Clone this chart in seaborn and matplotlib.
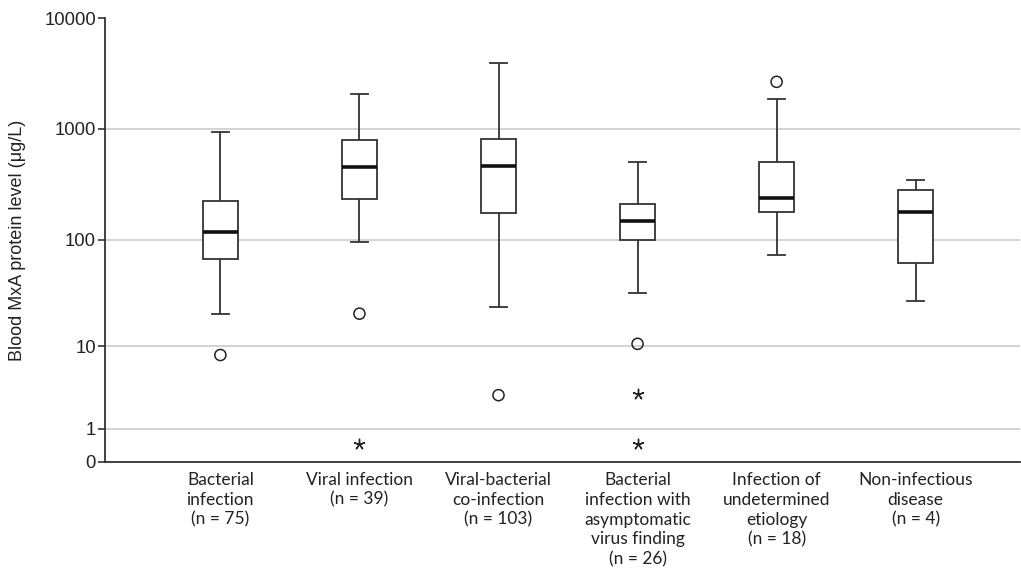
import numpy as np
import pandas as pd
import matplotlib
matplotlib.use("Agg")
import matplotlib.pyplot as plt
import seaborn as sns
from matplotlib.ticker import FixedLocator, NullLocator

# ---------------- data ----------------
categories = [
    "Bacterial\ninfection\n(n = 75)",
    "Viral infection\n(n = 39)",
    "Viral-bacterial\nco-infection\n(n = 103)",
    "Bacterial\ninfection with\nasymptomatic\nvirus finding\n(n = 26)",
    "Infection of\nundetermined\netiology\n(n = 18)",
    "Non-infectious\ndisease\n(n = 4)",
]
whisker_low = [20.7, 95, 24, 32, 73, 27]
q1 = [66, 231, 174, 99, 178, 61]
median = [116, 454, 460, 147, 238, 177]
q3 = [224, 789, 806, 208, 507, 284]
whisker_high = [930, 2080, 3960, 500, 1845, 344]

outlier_groups = [0, 1, 2, 3, 4]
outlier_values = [8.2, 20.7, 3.0, 10.6, 2660]

extreme_groups = [1, 3, 3]
extreme_values = [0.45, 3.1, 0.45]

ytick_values = [0, 1, 10, 100, 1000, 10000]
ytick_labels = ["0", "1", "10", "100", "1000", "10000"]

# ---------------- build tables ----------------
rows = []
for i, cat in enumerate(categories):
    vals = [whisker_low[i]] + [q1[i]] * 5 + [median[i]] * 5 + [q3[i]] * 5 + [whisker_high[i]]
    for v in vals:
        rows.append((cat, v))
box_df = pd.DataFrame(rows, columns=["group", "value"])
circ_df = pd.DataFrame({"group": [categories[g] for g in outlier_groups], "value": outlier_values})
star_df = pd.DataFrame({"group": [categories[g] for g in extreme_groups], "value": extreme_values})


def fwd(v):
    v = np.asarray(v, dtype=float)
    with np.errstate(invalid="ignore", divide="ignore"):
        return np.log10(np.maximum(v, -0.999999) + 1.0)


def inv(t):
    t = np.asarray(t, dtype=float)
    return 10.0 ** t - 1.0


plt.rcParams["font.family"] = ["Liberation Sans", "DejaVu Sans"]

fig = plt.figure(figsize=(10.21, 5.70), dpi=100)
ax = fig.add_axes([0.1028, 0.1895, 0.8962, 0.7789])
ax.set_yscale("function", functions=(fwd, inv))

edge = "#333333"
sns.boxplot(data=box_df, x="group", y="value", order=categories, ax=ax,
            width=0.25, whis=np.inf, showfliers=False, color="white",
            linecolor=edge, linewidth=1.3, saturation=1,
            medianprops=dict(color="#111111", linewidth=2.6))

n0 = len(ax.collections)
sns.stripplot(data=circ_df, x="group", y="value", order=categories, ax=ax,
              jitter=False, color="black", marker="o", size=8,
              linewidth=1.1, edgecolor="#222222")
for c in ax.collections[n0:]:
    c.set_facecolor("none")
    c.set_edgecolor("#222222")

n1 = len(ax.collections)
sns.stripplot(data=star_df, x="group", y="value", order=categories, ax=ax,
              jitter=False, color="black", marker=(5, 2, 0), size=7.5,
              linewidth=1.0, edgecolor="#222222")
for c in ax.collections[n1:]:
    c.set_edgecolor("#222222")

ax.set_xlim(-0.83, 5.75)
ax.set_ylim(0, 10000)
ax.yaxis.set_major_locator(FixedLocator(ytick_values))
ax.yaxis.set_minor_locator(NullLocator())
ax.set_yticklabels(ytick_labels)

ax.yaxis.grid(True, color="#cccccc", linewidth=1.2)
ax.set_axisbelow(True)
ax.yaxis.get_major_ticks()[-1].gridline.set_visible(False)

for s in ["top", "right"]:
    ax.spines[s].set_visible(False)
for s in ["left", "bottom"]:
    ax.spines[s].set_color(edge)
    ax.spines[s].set_linewidth(1.3)

ax.tick_params(axis="y", direction="out", length=5, width=1.2, color=edge,
               labelsize=13.3, pad=1.5, labelcolor="#222222")
ax.tick_params(axis="x", length=0, pad=7, labelsize=12.5, labelcolor="#222222")
for lab in ax.get_xticklabels():
    lab.set_fontfamily(["Lato", "DejaVu Sans"])
    lab.set_linespacing(1.3)

ax.set_xlabel("")
ax.set_ylabel("Blood MxA protein level (μg/L)", fontsize=13, color="#222222", labelpad=13)

fig.savefig("out.png", dpi=100)
